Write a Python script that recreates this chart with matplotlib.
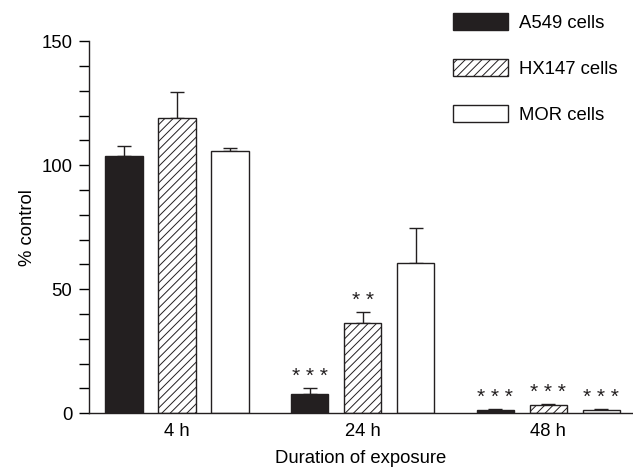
import matplotlib
matplotlib.use("Agg")
import matplotlib.pyplot as plt
from matplotlib.patches import Patch
import numpy as np

plt.rcParams['font.family'] = ['Liberation Sans', 'DejaVu Sans']
plt.rcParams['hatch.linewidth'] = 0.7
plt.rcParams['hatch.color'] = '#231f20'

# data
groups = ["4 h", "24 h", "48 h"]
cells = ["A549 cells", "HX147 cells", "MOR cells"]
a549 = [103.5, 7.8, 1.3]
a549_err = [4.4, 2.5, 0.5]
hx147 = [118.9, 36.3, 3.3]
hx147_err = [10.4, 4.7, 0.5]
mor = [105.6, 60.7, 1.3]
mor_err = [1.5, 13.9, 0.5]
stars_a549 = ["", "* * *", "* * *"]
stars_hx147 = ["", "* *", "* * *"]
stars_mor = ["", "", "* * *"]

fs = 13.3

fig = plt.figure(figsize=(6.33, 4.67), dpi=100)
ax = fig.add_axes([0.1406, 0.115, 0.8594, 0.797])

gx = np.arange(len(groups)) * 3.5
w = 0.7
series = [(a549, a549_err, stars_a549, dict(color='#231f20', hatch=None)),
          (hx147, hx147_err, stars_hx147, dict(color='white', hatch='////')),
          (mor, mor_err, stars_mor, dict(color='white', hatch=None))]

handles = []
for j, (vals, errs, stars, st) in enumerate(series):
    x = gx + j
    ax.bar(x, vals, width=w, color=st['color'], edgecolor='#231f20',
           linewidth=1.0, hatch=st['hatch'], zorder=2)
    ax.errorbar(x, vals, yerr=[np.zeros(len(vals)), errs], fmt='none',
                ecolor='#231f20', elinewidth=1.0, capsize=5, capthick=1.0, zorder=1)
    for xi, v, e, s in zip(x, vals, errs, stars):
        if s:
            ax.annotate(s, (xi, v + e), xytext=(0, 1), textcoords='offset points',
                        ha='center', va='bottom', fontsize=15, color='#231f20')
    handles.append(Patch(facecolor=st['color'], edgecolor='#231f20',
                         hatch=st['hatch'], linewidth=1.0, label=cells[j]))

ax.set_xlim(-0.66, 9.6)
ax.set_ylim(0, 150)
ax.set_yticks([0, 50, 100, 150])
ax.set_yticks(np.arange(0, 151, 10), minor=True)
ax.tick_params(axis='y', which='both', direction='out', length=7, width=1.0,
               labelsize=fs, pad=5)
ax.set_xticks(gx + 1)
ax.set_xticklabels(groups)
ax.tick_params(axis='x', length=0, labelsize=fs, pad=7)
for side in ['top', 'right']:
    ax.spines[side].set_visible(False)
for side in ['left', 'bottom']:
    ax.spines[side].set_linewidth(1.0)
    ax.spines[side].set_color('#231f20')

ax.set_ylabel('% control', fontsize=fs, labelpad=4)
ax.set_xlabel('Duration of exposure', fontsize=fs, labelpad=7)

leg = fig.legend(handles=handles, loc='upper left', bbox_to_anchor=(0.689, 1.007),
                 frameon=False, fontsize=fs, handlelength=3.0, handleheight=1.0,
                 labelspacing=1.48, handletextpad=0.6)

fig.savefig('out.png', dpi=100)
